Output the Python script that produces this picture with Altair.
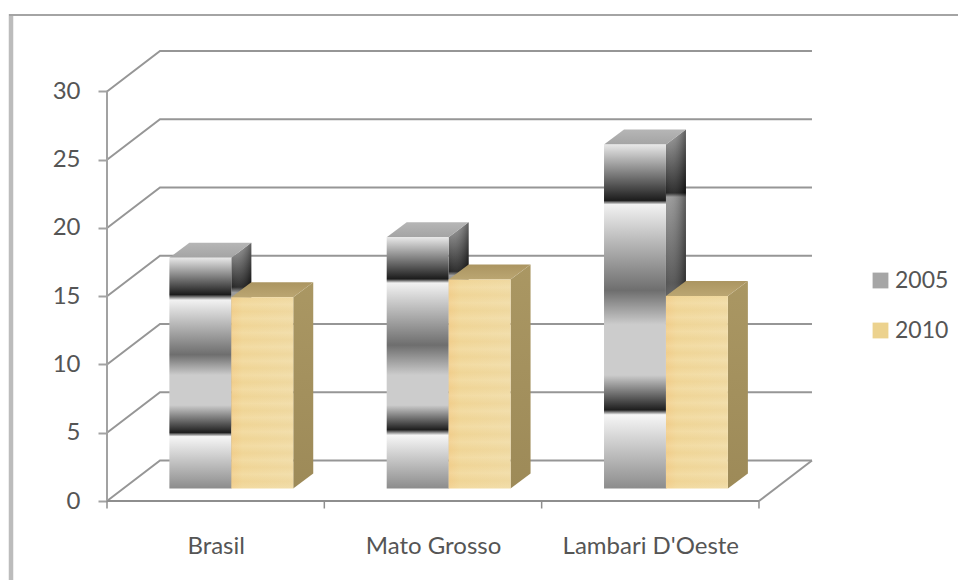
import altair as alt
import pandas as pd

categories = ["Brasil", "Mato Grosso", "Lambari D'Oeste"]
values_2005 = [16.9, 18.4, 25.2]
values_2010 = [14.0, 15.3, 14.1]
years = ["2005", "2010"]
y_ticks = [0, 5, 10, 15, 20, 25, 30]

# Where the reflective shading of each 2005 column changes tone, top to bottom.
bands_2005 = [
    [16.9, 14.2, 13.8, 9.8, 8.3, 6.1, 4.1, 3.8, 0],
    [18.4, 15.35, 15.05, 10.5, 8.3, 6.1, 4.3, 3.9, 0],
    [25.2, 21.1, 20.8, 14.5, 12.0, 8.3, 5.75, 5.4, 0],
]
front_tones = ["#e8e8e8", "#1c1c1c", "#f2f2f2", "#6e6e6e", "#cccccc",
               "#cccccc", "#1e1e1e", "#f6f6f6", "#8c8c8c"]
side_tones = ["#a0a0a0", "#161616", "#969696", "#4a4a4a", "#707070",
              "#707070", "#1a1a1a", "#8c8c8c", "#4c4c4c"]

# Oblique projection of the chart box, in axis units.
WALL_DX, WALL_DY = 0.2439, 2.97
BAR_DX, BAR_DY = 0.092, 1.10
FLOOR_DX, FLOOR_DY = 0.072, 0.92
BAR_W = 0.285

X_DOM = [0, 3.244]
Y_DOM = [0, 33.04]
GRID = "#969696"
AXIS = "#8e8e8e"
TEXT = "#555555"
FONT = "Lato"

xs = alt.Scale(domain=X_DOM, nice=False, zero=False)
ys = alt.Scale(domain=Y_DOM, nice=False, zero=False)

label_lookup = "{" + ",".join(f"'{i + 0.5}':\"{n}\"" for i, n in enumerate(categories)) + "}"
x_axis = alt.Axis(
    values=[0.5, 1.5, 2.5], ticks=False, domain=False, grid=False, title=None,
    labelExpr=f"{label_lookup}[datum.value]",
    labelFont=FONT, labelFontSize=24, labelColor=TEXT,
    labelPadding=33, labelOverlap=False,
)
y_axis = alt.Axis(
    values=y_ticks, domain=False, grid=False, title=None, tickSize=9, tickWidth=2,
    tickColor="#a2a2a2", labelFont=FONT, labelFontSize=24, labelColor=TEXT,
    labelPadding=18,
)


def gx(field="x"):
    return alt.X(f"{field}:Q", scale=xs, axis=x_axis)


def gy(field="y"):
    return alt.Y(f"{field}:Q", scale=ys, axis=y_axis)


def linear(stops, vertical=True):
    return alt.LinearGradient(
        gradient="linear",
        x1=0, y1=0,
        x2=0 if vertical else 1,
        y2=1 if vertical else 0,
        stops=[alt.GradientStop(color=c, offset=min(max(o, 0), 1)) for o, c in stops],
    )


def front(x0, x1, top, base, fill):
    d = pd.DataFrame({"x": [x0], "x2": [x1], "y": [top], "y2": [base]})
    return alt.Chart(d).mark_rect(color=fill).encode(
        x=gx(), x2="x2:Q", y=gy(), y2="y2:Q"
    )


def side(x1, top, base, fill):
    d = pd.DataFrame({
        "x": [x1, x1 + BAR_DX],
        "y": [top, top + BAR_DY],
        "y2": [base, base + BAR_DY],
    })
    return alt.Chart(d).mark_area(color=fill, interpolate="linear").encode(
        x=gx(), y=gy(), y2="y2:Q"
    )


def lid(x0, x1, top, fill):
    d = pd.DataFrame({
        "x": [x0, x0 + BAR_DX, x1, x1 + BAR_DX],
        "y": [top, top + BAR_DY, top + BAR_DY, top + BAR_DY],
        "y2": [top, top, top, top + BAR_DY],
    })
    return alt.Chart(d).mark_area(color=fill, interpolate="linear").encode(
        x=gx(), y=gy(), y2="y2:Q"
    )


layers = []

# Outer frame of the chart object.
layers.append(
    alt.Chart(pd.DataFrame({"a": [0]})).mark_rule(color="#bcbcbc", strokeWidth=4.5).encode(
        x=alt.value(-96), y=alt.value(-36), y2=alt.value(530)
    )
)
layers.append(
    alt.Chart(pd.DataFrame({"a": [0]})).mark_rule(color="#a4a4a4", strokeWidth=2).encode(
        x=alt.value(-98), x2=alt.value(851), y=alt.value(-35)
    )
)

# Back-wall gridlines, each with its slanted run along the side wall.
for v in y_ticks:
    wall = pd.DataFrame({
        "x": [0, WALL_DX, 3 + WALL_DX],
        "y": [v, v + WALL_DY, v + WALL_DY],
    })
    layers.append(
        alt.Chart(wall).mark_line(color=GRID, strokeWidth=2).encode(x=gx(), y=gy())
    )
floor_edge = pd.DataFrame({"x": [3, 3 + WALL_DX], "y": [0, WALL_DY]})
layers.append(alt.Chart(floor_edge).mark_line(color=GRID, strokeWidth=2).encode(x=gx(), y=gy()))

# Columns: each pair sits at the middle of the box's depth.
tan_front = linear([(0, "#f3d190"), (0.18, "#f2d99c"), (1, "#f1dca6")], vertical=False)
tan_side = linear([(0, "#aa9763"), (1, "#9d8a58")])
tan_lid = linear([(0, "#ab9561"), (1, "#bba672")])
grey_lid = linear([(0, "#b6b6b6"), (1, "#a4a4a4")])
side_sheen = linear([(0, "rgba(255,255,255,0.06)"), (1, "rgba(0,0,0,0.40)")], vertical=False)
weave = []
for k, shade in enumerate(["rgba(205,150,60,0.06)", "rgba(255,255,255,0.07)"] * 14):
    weave.append((k / 27, shade))
weave = linear(weave)

for i, name in enumerate(categories):
    split = i + 0.5 + FLOOR_DX
    base = FLOOR_DY

    # 2005
    v = values_2005[i]
    x0, x1 = split - BAR_W, split
    stops = bands_2005[i]
    fs = [((v - s) / v, c) for s, c in zip(stops, front_tones)]
    span = v + BAR_DY
    ss = [((span - (s + BAR_DY / 2)) / span, c) for s, c in zip(stops, side_tones)]
    ss[0] = (0, side_tones[0])
    ss[-1] = (1, side_tones[-1])
    layers.append(side(x1, v + base, base, linear(ss)))
    layers.append(side(x1, v + base, base, side_sheen))
    layers.append(lid(x0, x1, v + base, grey_lid))
    layers.append(front(x0, x1, v + base, base, linear(fs)))

    # 2010
    v = values_2010[i]
    x0, x1 = split, split + BAR_W
    layers.append(side(x1, v + base, base, tan_side))
    layers.append(lid(x0, x1, v + base, tan_lid))
    layers.append(front(x0, x1, v + base, base, tan_front))
    layers.append(front(x0, x1, v + base, base, weave))

# Front axis lines and the tick marks under the category axis.
y_line = pd.DataFrame({"x": [0], "y": [0], "y2": [30]})
layers.append(
    alt.Chart(y_line).mark_rule(color="#a2a2a2", strokeWidth=2).encode(x=gx(), y=gy(), y2="y2:Q")
)
x_line = pd.DataFrame({"x": [0], "x2": [3], "y": [0]})
layers.append(
    alt.Chart(x_line).mark_rule(color=AXIS, strokeWidth=2).encode(x=gx(), x2="x2:Q", y=gy())
)
x_ticks = pd.DataFrame({"x": [0, 1, 2, 3], "y": [0] * 4, "y2": [-0.55] * 4})
layers.append(
    alt.Chart(x_ticks).mark_rule(color=AXIS, strokeWidth=1.5).encode(x=gx(), y=gy(), y2="y2:Q")
)

# Legend for the two survey years.
legend_source = pd.DataFrame({"year": years, "x": [0.5, 0.5], "y": [0, 0]})
layers.append(
    alt.Chart(legend_source).mark_square(opacity=0, size=250).encode(
        x=gx(),
        y=gy(),
        color=alt.Color(
            "year:N",
            scale=alt.Scale(domain=years, range=["#a6a6a6", "#ecd28e"]),
            legend=alt.Legend(
                title=None, orient="none", legendX=762, legendY=219,
                symbolType="square", symbolSize=250, symbolOpacity=1,
                symbolStrokeWidth=0, labelFont=FONT, labelFontSize=23,
                labelColor=TEXT, rowPadding=26, labelOffset=3, padding=0,
            ),
        ),
    )
)

chart = (
    alt.layer(*layers)
    .properties(
        width=705,
        height=451,
        padding={"left": 107, "top": 50, "right": 146, "bottom": 80},
        autosize=alt.AutoSizeParams(type="none"),
        background="white",
    )
    .configure_view(stroke=None)
)

chart.save("out.html", embed_options={"renderer": "svg", "actions": False})
